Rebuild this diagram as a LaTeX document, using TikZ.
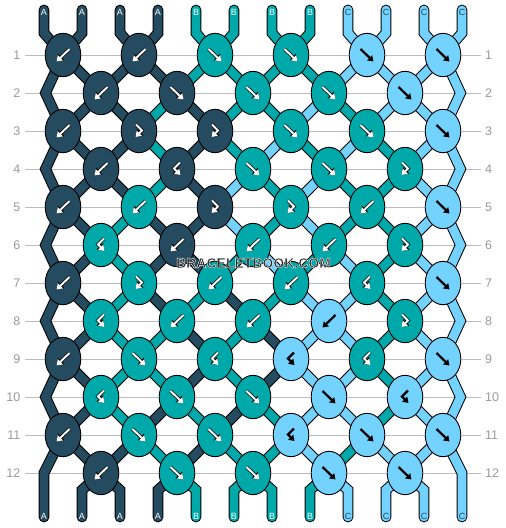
\documentclass[tikz,border=0pt]{standalone}
\usepackage{fontspec}
\setmainfont{Liberation Sans}
\usetikzlibrary{arrows.meta,shapes.geometric}
\definecolor{c0}{HTML}{244B5F}
\definecolor{c1}{HTML}{00A9A9}
\definecolor{c2}{HTML}{73D2FE}
\definecolor{rowgray}{HTML}{9A9A9A}
\definecolor{linegray}{HTML}{BDBDBD}
\definecolor{wmgray}{HTML}{2A2A2A}

% colour (0 = A, 1 = B, 2 = C) of each position after each row (row 0 = start)
\def\colarr{{0,0,0,0,1,1,1,1,2,2,2,2,%
0,0,0,0,1,1,1,1,2,2,2,2,%
0,0,0,1,0,1,1,2,1,2,2,2,%
0,0,0,1,0,1,2,1,2,1,2,2,%
0,0,0,1,0,2,1,2,1,1,2,2,%
0,0,1,0,0,2,1,2,1,1,2,2,%
0,0,1,0,0,1,2,1,2,1,2,2,%
0,0,1,0,1,0,1,2,2,1,2,2,%
0,0,1,1,0,1,0,2,2,1,2,2,%
0,0,1,1,0,1,0,2,2,1,2,2,%
0,0,1,0,1,0,1,2,2,1,2,2,%
0,0,0,1,0,1,1,2,1,2,2,2,%
0,0,0,0,1,1,1,1,2,2,2,2}}

\newcommand\strandsegs{%
  \foreach \ps in {1,...,12} {%
    \pgfmathtruncatemacro\cl{\colarr[\ps-1]}%
    \pgfmathtruncatemacro\ka{(\ps+1)/2}%
    \pgfmathsetmacro\xx{44+38*(\ps-1)}%
    \draw[s\cl,line cap=round] (\xx,10) -- (\xx,33) -- (k1-\ka);%
  }%
  \foreach \rw in {1,...,11} {%
    \foreach \ps in {2,...,11} {%
      \pgfmathtruncatemacro\rn{\rw+1}%
      \pgfmathtruncatemacro\cl{\colarr[\rw*12+\ps-1]}%
      \pgfmathtruncatemacro\od{mod(\rw,2)}%
      \ifnum\od=1
        \pgfmathtruncatemacro\ka{(\ps+1)/2}%
        \pgfmathtruncatemacro\kb{\ps/2}%
      \else
        \pgfmathtruncatemacro\ka{\ps/2}%
        \pgfmathtruncatemacro\kb{(\ps+1)/2}%
      \fi
      \draw[s\cl] (k\rw-\ka) -- (k\rn-\kb);%
    }%
  }%
  \foreach \rw in {2,4,...,10} {%
    \pgfmathtruncatemacro\rp{\rw-1}%
    \pgfmathtruncatemacro\rn{\rw+1}%
    \draw[s0] (k\rp-1) -- (L\rw) -- (k\rn-1);%
    \draw[s2] (k\rp-6) -- (R\rw) -- (k\rn-6);%
  }%
  \draw[s0,line cap=round] (k11-1) -- (L12) -- (LB);%
  \draw[s2,line cap=round] (k11-6) -- (R12) -- (RB);%
  \foreach \ps in {2,...,11} {%
    \pgfmathtruncatemacro\cl{\colarr[144+\ps-1]}%
    \pgfmathtruncatemacro\ka{\ps/2}%
    \pgfmathsetmacro\xx{44+38*(\ps-1)}%
    \draw[s\cl,line cap=round] (k12-\ka) -- (\xx,490) -- (\xx,517);%
  }%
}

% arrow of a knot: 0 forward, 1 backward, 2 forward-backward, 3 backward-forward
\newcommand\knotarrow[3]{%
  \ifcase#1
    \draw[#3,shift={(#2)}] (-6.5,-6) -- (6.5,6.5);%
  \or
    \draw[#3,shift={(#2)}] (6.5,-6) -- (-6.5,6.5);%
  \or
    \draw[#3,shift={(#2)}] (-3,-6.5) -- (3,-0.5) -- (-3.5,6);%
  \or
    \draw[#3,shift={(#2)}] (3,-6.5) -- (-3,-0.5) -- (3.5,6);%
  \fi}

\begin{document}
\begin{tikzpicture}[x=1pt,y=-1pt,
  knot/.style={ellipse,draw=black,line width=0.9pt,minimum width=35.6pt,minimum height=43.4pt,inner sep=0pt},
  arwo/.style={black,line width=3.4pt,line join=miter,-{Triangle[length=6.6pt,width=8.8pt]}},
  arww/.style={white,line width=2pt,line join=miter,-{Triangle[length=5.4pt,width=7pt]}},
  arwb/.style={black,line width=2.2pt,line join=miter,-{Triangle[length=5.4pt,width=7pt]}},
  rowlab/.style={text=rowgray,font=\fontsize{12.5}{13}\selectfont,inner sep=0pt},
  gridline/.style={draw=linegray,line width=0.9pt,shorten <=4.5pt,shorten >=4.5pt},
  strlab/.style={font=\fontsize{9}{9}\selectfont,inner sep=0pt},
  wm/.style={font=\fontsize{14}{14}\selectfont\bfseries,inner sep=0pt}]
\useasboundingbox (0,0) rectangle (506,528);
\fill[white] (0,0) rectangle (506,528);

% knot positions
\foreach \rw in {1,3,...,11} {
  \foreach \kk in {1,...,6} {
    \coordinate (k\rw-\kk) at ({63+76*(\kk-1)},{55+38*(\rw-1)});
  }
}
\foreach \rw in {2,4,...,12} {
  \foreach \kk in {1,...,5} {
    \coordinate (k\rw-\kk) at ({101+76*(\kk-1)},{55+38*(\rw-1)});
  }
  \coordinate (L\rw) at (45.5,{55+38*(\rw-1)});
  \coordinate (R\rw) at (460.5,{55+38*(\rw-1)});
}
\coordinate (L12) at (44,473);
\coordinate (R12) at (462,473);
\coordinate (LB) at (44,517);
\coordinate (RB) at (462,517);

% row numbers and guide lines
\foreach \rw in {1,...,12} {
  \node[rowlab,anchor=east] (rl\rw) at (20.5,{55+38*(\rw-1)}) {\rw};
  \node[rowlab,anchor=west] (rr\rw) at (485,{55+38*(\rw-1)}) {\rw};
  \draw[gridline] (rl\rw) -- (rr\rw);
}

% strands: outline pass, then colour pass
\begin{scope}[s0/.style={draw=black,line width=10.8pt},
              s1/.style={draw=black,line width=10.8pt},
              s2/.style={draw=black,line width=10.8pt}]
\strandsegs
\end{scope}
\begin{scope}[s0/.style={draw=c0,line width=8.8pt},
              s1/.style={draw=c1,line width=8.8pt},
              s2/.style={draw=c2,line width=8.8pt}]
\strandsegs
\end{scope}

% knots: row/knot/type/colour
\foreach \rw/\kk/\ty/\kc in {
  1/1/1/0, 1/2/1/0, 1/3/0/1, 1/4/0/1, 1/5/0/2, 1/6/0/2,
  2/1/1/0, 2/2/0/0, 2/3/0/1, 2/4/0/1, 2/5/0/2,
  3/1/1/0, 3/2/2/0, 3/3/2/0, 3/4/0/1, 3/5/0/1, 3/6/0/2,
  4/1/1/0, 4/2/3/0, 4/3/0/1, 4/4/0/1, 4/5/2/1,
  5/1/1/0, 5/2/1/1, 5/3/2/0, 5/4/2/1, 5/5/1/1, 5/6/0/2,
  6/1/3/1, 6/2/1/0, 6/3/1/1, 6/4/1/1, 6/5/2/1,
  7/1/1/0, 7/2/2/1, 7/3/1/1, 7/4/1/1, 7/5/3/1, 7/6/0/2,
  8/1/3/1, 8/2/1/1, 8/3/1/1, 8/4/1/2, 8/5/2/1,
  9/1/1/0, 9/2/0/1, 9/3/3/1, 9/4/3/2, 9/5/3/1, 9/6/0/2,
  10/1/3/1, 10/2/0/1, 10/3/0/1, 10/4/0/2, 10/5/3/2,
  11/1/1/0, 11/2/0/1, 11/3/0/1, 11/4/3/2, 11/5/0/2, 11/6/0/2,
  12/1/1/0, 12/2/0/1, 12/3/0/1, 12/4/0/2, 12/5/0/2} {
  \node[knot,fill=c\kc] (n\rw-\kk) at (k\rw-\kk) {};
  \ifnum\kc=2
    \knotarrow{\ty}{k\rw-\kk}{arwb}
  \else
    \knotarrow{\ty}{k\rw-\kk}{arwo}
    \knotarrow{\ty}{k\rw-\kk}{arww}
  \fi
}

% string letters
\foreach \ps/\lt/\lc in {1/A/white,2/A/white,3/A/white,4/A/white,
  5/B/white,6/B/white,7/B/white,8/B/white,9/C/c0,10/C/c0,11/C/c0,12/C/c0} {
  \node[strlab,text=\lc] (tl\ps) at ({44+38*(\ps-1)},12.7) {\lt};
  \node[strlab,text=\lc] (bl\ps) at ({44+38*(\ps-1)},516.5) {\lt};
}

% watermark: dark fill with a thin white outline (text render mode 2)
\node[wm,text=wmgray] (wm) at (253.5,263) {\special{pdf:literal direct 1 1 1 RG 0.4 w 2 Tr}BRACELETBOOK.COM\special{pdf:literal direct 0 Tr}};
\end{tikzpicture}
\end{document}
